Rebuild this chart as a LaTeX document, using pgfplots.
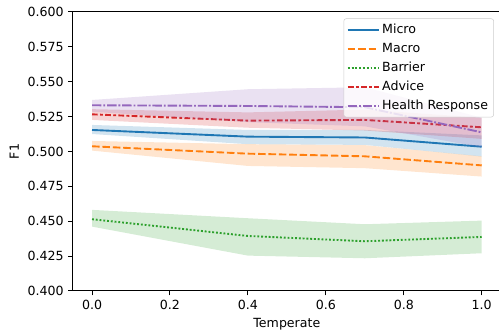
\documentclass[border=0pt]{standalone}
\usepackage{pgfplots}
\pgfplotsset{compat=1.18}
\usepackage{fontspec}
\setmainfont{DejaVu Sans}
\definecolor{c1}{HTML}{1F77B4}
\definecolor{c2}{HTML}{FF7F0E}
\definecolor{c3}{HTML}{2CA02C}
\definecolor{c4}{HTML}{D62728}
\definecolor{c5}{HTML}{9467BD}
\begin{document}
\begin{tikzpicture}
\begin{axis}[
  scale only axis, width=340.4pt, height=221.5pt,
  xmin=-0.05, xmax=1.05, ymin=0.4, ymax=0.6,
  xtick={0,0.2,0.4,0.6,0.8,1.0},
  ytick={0.4,0.425,0.45,0.475,0.5,0.525,0.55,0.575,0.6},
  xticklabel style={/pgf/number format/.cd,fixed,fixed zerofill,precision=1},
  yticklabel style={/pgf/number format/.cd,fixed,fixed zerofill,precision=3},
  /pgf/number format/assume math mode=true,
  tick align=outside, major tick length=3.5pt,
  tick style={black, line width=0.8pt},
  xtick pos=bottom, ytick pos=left,
  axis line style={black, line width=0.8pt},
  xlabel={Temperate}, ylabel={F1},
  font=\fontsize{10}{12}\selectfont,
  tick label style={font=\fontsize{10}{12}\selectfont},
  legend style={at={(0.983,0.977)}, anchor=north east, draw=black!20, fill=white, fill opacity=0.8, text opacity=1, rounded corners=2pt, font=\fontsize{10}{12}\selectfont, row sep=2pt, inner xsep=2.5pt, inner ysep=2.5pt},
  legend cell align=left,
  legend image code/.code={\path (0cm,0cm) -- (0.86cm,0cm); \draw[#1] plot coordinates {(0cm,0cm) (0.76cm,0cm)};},
]
% Micro
\addplot[forget plot, fill=c1, fill opacity=0.2, draw=none] coordinates {(0,0.5190) (0.4,0.5154) (0.7,0.5154) (1.0,0.5115) (1.0,0.4963) (0.7,0.5047) (0.4,0.5052) (0,0.5125)} -- cycle;
\addplot[c1, line width=1.5pt, solid] coordinates {(0,0.5154) (0.4,0.5106) (0.7,0.5100) (1.0,0.5034)};
\addlegendentry{Micro}
% Macro
\addplot[forget plot, fill=c2, fill opacity=0.2, draw=none] coordinates {(0,0.5075) (0.4,0.5052) (0.7,0.5045) (1.0,0.4965) (1.0,0.4820) (0.7,0.4880) (0.4,0.4896) (0,0.5006)} -- cycle;
\addplot[c2, line width=1.5pt, dash pattern=on 6pt off 2.25pt] coordinates {(0,0.5037) (0.4,0.4984) (0.7,0.4965) (1.0,0.4900)};
\addlegendentry{Macro}
% Barrier
\addplot[forget plot, fill=c3, fill opacity=0.2, draw=none] coordinates {(0,0.4581) (0.4,0.4521) (0.7,0.4478) (1.0,0.4504) (1.0,0.4270) (0.7,0.4234) (0.4,0.4253) (0,0.4461)} -- cycle;
\addplot[c3, line width=1.5pt, dash pattern=on 1.5pt off 1.5pt] coordinates {(0,0.4514) (0.4,0.4394) (0.7,0.4356) (1.0,0.4387)};
\addlegendentry{Barrier}
% Advice
\addplot[forget plot, fill=c4, fill opacity=0.2, draw=none] coordinates {(0,0.5303) (0.4,0.5280) (0.7,0.5300) (1.0,0.5242) (1.0,0.5090) (0.7,0.5150) (0.4,0.5170) (0,0.5226)} -- cycle;
\addplot[c4, line width=1.5pt, dash pattern=on 4.5pt off 1.875pt on 2.25pt off 1.875pt] coordinates {(0,0.5266) (0.4,0.5221) (0.7,0.5226) (1.0,0.5173)};
\addlegendentry{Advice}
% Health Response
\addplot[forget plot, fill=c5, fill opacity=0.2, draw=none] coordinates {(0,0.5369) (0.4,0.5446) (0.7,0.5460) (1.0,0.5242) (1.0,0.5030) (0.7,0.5180) (0.4,0.5210) (0,0.5285)} -- cycle;
\addplot[c5, line width=1.5pt, dash pattern=on 7.5pt off 1.5pt on 1.5pt off 1.5pt] coordinates {(0,0.5331) (0.4,0.5326) (0.7,0.5317) (1.0,0.5137)};
\addlegendentry{Health Response}
\end{axis}
\pgfresetboundingbox
\path (-57.6pt,-32.6pt) rectangle (338.65pt,231pt);
\end{tikzpicture}
\end{document}
